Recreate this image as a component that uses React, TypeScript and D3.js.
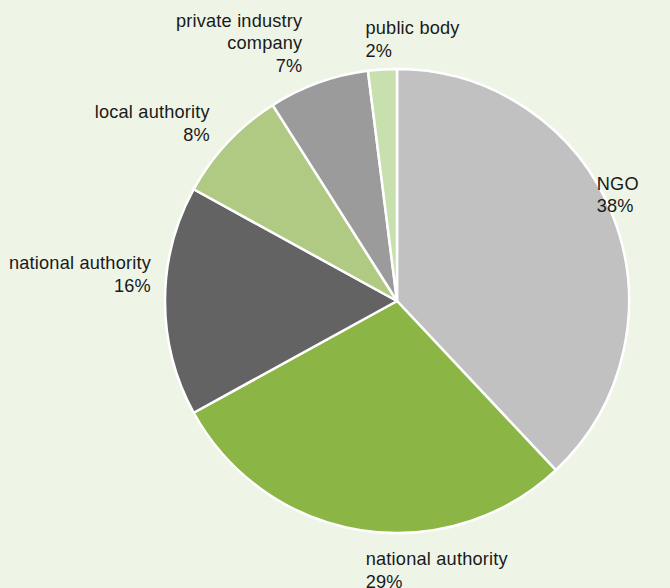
import React from "react";
import * as d3 from "d3";

const categories = ["NGO", "national authority", "national authority", "local authority", "private industry company", "public body"];
const values = [38, 29, 16, 8, 7, 2];
const labelLines = [["NGO", "38%"], ["national authority", "29%"], ["national authority", "16%"], ["local authority", "8%"], ["private industry", "company", "7%"], ["public body", "2%"]];
const colors = ["#c1c1c1", "#8bb545", "#636363", "#b0ca84", "#9b9b9b", "#c7e0ad"];

// label layout: offset from outer-arc midpoint, and text-anchor
const labelLayout = [
  { dx: -16, dy: -26, anchor: "start" },
  { dx: 5, dy: 35, anchor: "start" },
  { dx: -14, dy: -32, anchor: "end" },
  { dx: -18, dy: -24, anchor: "end" },
  { dx: -16, dy: -56, anchor: "end" },
  { dx: -17, dy: -35, anchor: "start" },
];

const W = 670, H = 588;
const cx = 397, cy = 301, R = 232;

export default function App() {
  const data = values.map((v, i) => ({ v, i, name: categories[i] }));
  const pie = d3.pie<any>().value((d) => d.v).sort(null);
  const arcs = pie(data);
  const arc = d3.arc<any>().innerRadius(0).outerRadius(R);
  return (
    <svg width={W} height={H} style={{ position: "absolute", left: 0, top: 0 }}>
      <rect x={0} y={0} width={W} height={H} fill="#eef5e7" />
      <g transform={`translate(${cx},${cy})`}>
        {arcs.map((a, i) => (
          <path key={i} d={arc(a) || ""} fill={colors[i]} stroke="#ffffff" strokeWidth={2.5} strokeLinejoin="round" />
        ))}
        {arcs.map((a, i) => {
          const mid = (a.startAngle + a.endAngle) / 2;
          const px = Math.sin(mid) * R;
          const py = -Math.cos(mid) * R;
          const L = labelLayout[i];
          return (
            <text key={"t" + i} x={px + L.dx} y={py + L.dy} textAnchor={L.anchor} fontFamily="Liberation Sans, Arial, sans-serif" fontSize={18.2} letterSpacing={0.2} fill="#1a1a1a">
              {labelLines[i].map((ln, j) => (
                <tspan key={j} x={px + L.dx} dy={j === 0 ? 0 : 22.5}>{ln}</tspan>
              ))}
            </text>
          );
        })}
      </g>
    </svg>
  );
}
